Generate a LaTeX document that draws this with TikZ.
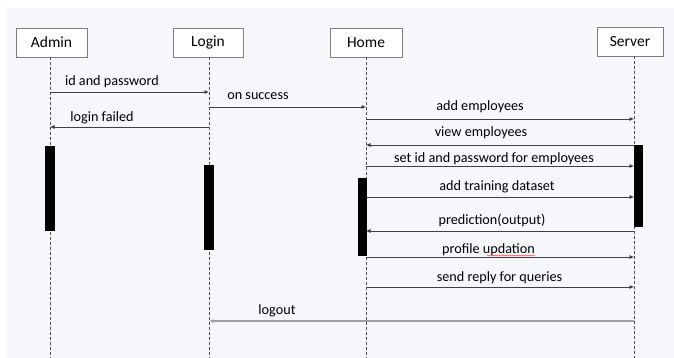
\documentclass[tikz,border=0pt]{standalone}
\usepackage{fontspec}
\setmainfont{Carlito}
\usetikzlibrary{arrows.meta,decorations.pathmorphing}
\definecolor{bg}{HTML}{F5F7FB}
\definecolor{boxline}{HTML}{7F7F7F}
\definecolor{msgline}{HTML}{404040}
\definecolor{lifeline}{HTML}{505050}
\tikzset{
  actor/.style={draw=boxline,line width=0.8pt,fill=white,minimum height=29pt,inner sep=0pt,font=\fontsize{15.5}{18}\selectfont},
  life/.style={draw=lifeline,line width=0.8pt,dash pattern=on 3pt off 2pt},
  actbar/.style={fill=black,draw=none},
  msg/.style={draw=msgline,line width=0.7pt,-{Latex[length=4.5pt,width=4pt]}},
  msggray/.style={draw=gray!75,line width=1.4pt,-{Latex[length=4.5pt,width=4pt]}},
  lbl/.style={anchor=base,inner sep=0pt,font=\fontsize{14.2}{16}\selectfont}
}
\begin{document}
\begin{tikzpicture}[x=1pt,y=-1pt]
\useasboundingbox (0,0) rectangle (674,358);
\fill[white] (0,0) rectangle (674,358);
\fill[bg] (7,8) rectangle (674,358);

% actors
\node[actor,minimum width=71pt] (admin) at (51.5,42.5) {Admin};
\node[actor,minimum width=70pt] (login) at (208,42.5) {Login};
\node[actor,minimum width=72pt] (home) at (366,42.5) {Home};
\node[actor,minimum width=66pt] (server) at (630,41.5) {Server};

% lifeline tops / bottoms
\coordinate (LA) at (50,57);
\coordinate (LL) at (209,57);
\coordinate (LH) at (366,57);
\coordinate (LS) at (634,56);
\coordinate (LAb) at (50,358);
\coordinate (LLb) at (209,358);
\coordinate (LHb) at (366,358);
\coordinate (LSb) at (634,358);
\draw[life] (LA) -- (LAb);
\draw[life] (LL) -- (LLb);
\draw[life] (LH) -- (LHb);
\draw[life] (LS) -- (LSb);

% activation bars
\fill[actbar] (45,146) rectangle (54.5,231);
\fill[actbar] (204,165) rectangle (214,250);
\fill[actbar] (357.5,178) rectangle (366.5,256);
\fill[actbar] (633.5,145) rectangle (643,227);

% messages
\draw[msg] (LA |- 0,92) -- (LL |- 0,92);
\node[lbl] (m1) at (112,86) {id and password};

\draw[msg] (LL |- 0,107) -- (LH |- 0,107);
\node[lbl] (m2) at (258,100) {on success};

\draw[msg] (LL |- 0,127) -- (LA |- 0,127);
\node[lbl] (m3) at (102,121.5) {login failed};

\draw[msg] (LH |- 0,119) -- (LS |- 0,119);
\node[lbl] (m4) at (480,111) {add employees};

\draw[msg] (LS |- 0,145) -- (LH |- 0,145);
\node[lbl] (m5) at (481,137) {view employees};

\draw[msg] (LH |- 0,166) -- (LS |- 0,166);
\node[lbl] (m6) at (494,163) {set id and password for employees};

\draw[msg] (LH |- 0,197) -- (LS |- 0,197);
\node[lbl] (m7) at (497,190) {add training dataset};

\draw[msg] (LS |- 0,231) -- (LH |- 0,231);
\node[lbl] (m8) at (492,224) {prediction(output)};

\draw[msg] (LH |- 0,257) -- (LS |- 0,257);
\node[lbl] (m9) at (488.5,253) {profile updation};
\draw[red!80,line width=0.4pt,decorate,decoration={snake,amplitude=0.6pt,segment length=2pt}] (m9.base east |- 0,255.5) ++(-48,0) -- ++(48,0);

\draw[msg] (LH |- 0,287) -- (LS |- 0,287);
\node[lbl] (m10) at (499.5,281) {send reply for queries};

\draw[msggray] (LS |- 0,321) -- (LL |- 0,321);
\node[lbl] (m11) at (277,314) {logout};
\end{tikzpicture}
\end{document}
